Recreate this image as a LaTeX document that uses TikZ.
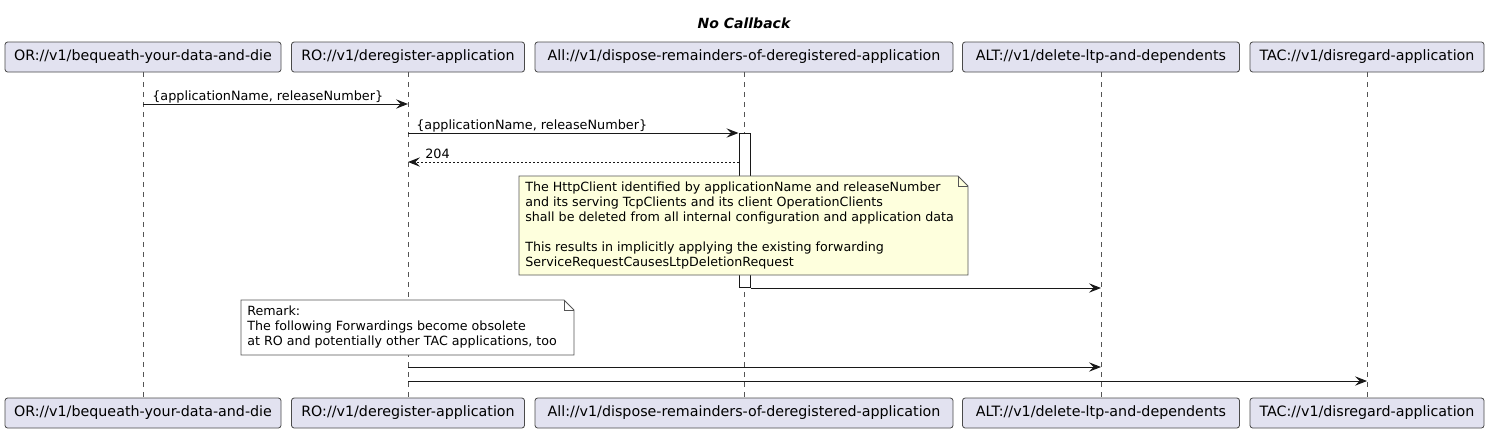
\documentclass[tikz,border=0pt]{standalone}
\usepackage{fontspec}
\setmainfont{DejaVu Sans}
\usetikzlibrary{arrows.meta,positioning,calc}
\definecolor{partfill}{HTML}{E2E2F0}
\definecolor{partline}{HTML}{181818}
\definecolor{boxline}{HTML}{4A4A4A}
\definecolor{notefill}{HTML}{FEFFDD}
\definecolor{lifegray}{HTML}{555555}
\newcommand{\umlfont}{\fontsize{9.6pt}{11.25pt}\selectfont}
\newcommand{\partfont}{\fontsize{10.7pt}{12pt}\selectfont}
\tikzset{
	part/.style={draw=boxline, fill=partfill, rounded corners=2pt, minimum height=22.5pt, inner sep=0pt, line width=0.6pt, font=\partfont},
	life/.style={draw=lifegray, line width=0.6pt, dash pattern=on 3.75pt off 3.75pt},
	msg/.style={draw=partline, line width=0.75pt, -{Stealth[length=9pt,width=7pt,inset=3.5pt]}},
	retmsg/.style={msg, dash pattern=on 1.5pt off 1.5pt},
	lbl/.style={font=\umlfont, inner sep=0pt, anchor=base west},
	notetext/.style={font=\fontsize{9.5pt}{11.25pt}\selectfont, inner sep=0pt, anchor=north west, align=left},
	noteline/.style={draw=lifegray, line width=0.6pt}
}
\begin{document}
\begin{tikzpicture}[x=0.75pt, y=-0.75pt]
	\useasboundingbox (0,0) rectangle (1489,433);
	\node[font=\fontsize{10.5pt}{12pt}\selectfont\bfseries\itshape] (title) at (744,23) {No Callback};
	% participants, top and bottom
	\node[part, minimum width=207pt] (or) at (143,57) {OR://v1/bequeath-your-data-and-die};
	\node[part, minimum width=174.75pt] (ro) at (408,57) {RO://v1/deregister-application};
	\node[part, minimum width=313.5pt] (all) at (744,57) {All://v1/dispose-remainders-of-deregistered-application};
	\node[part, minimum width=207.75pt] (alt) at (1101,57) {ALT://v1/delete-ltp-and-dependents};
	\node[part, minimum width=175.5pt] (tac) at (1367,57) {TAC://v1/disregard-application};
	\node[part, minimum width=207pt] (orb) at (143,413) {OR://v1/bequeath-your-data-and-die};
	\node[part, minimum width=174.75pt] (rob) at (408,413) {RO://v1/deregister-application};
	\node[part, minimum width=313.5pt] (allb) at (744,413) {All://v1/dispose-remainders-of-deregistered-application};
	\node[part, minimum width=207.75pt] (altb) at (1101,413) {ALT://v1/delete-ltp-and-dependents};
	\node[part, minimum width=175.5pt] (tacb) at (1367,413) {TAC://v1/disregard-application};
	\draw[life] (or) -- (orb);
	\draw[life] (ro) -- (rob);
	\draw[life] (all) -- (allb);
	\draw[life] (alt) -- (altb);
	\draw[life] (tac) -- (tacb);
	\node[draw=partline, fill=white, line width=0.75pt, minimum width=8.25pt, minimum height=115.5pt, inner sep=0pt, anchor=north] (act) at (744.5,133) {};
	% messages
	\draw[msg] (or |- 0,104) -- (ro |- 0,104);
	\node[lbl] (l1) at (152,100) {\{applicationName, releaseNumber\}};
	\draw[msg] (ro |- 0,133) -- (act.north west);
	\node[lbl] (l2) at (416,129) {\{applicationName, releaseNumber\}};
	\draw[retmsg] (act.west |- 0,162) -- (ro |- 0,162);
	\node[lbl] (l3) at (425,158) {204};
	\draw[msg] (act.south east) -- (alt |- act.south);
	\draw[msg] (ro |- 0,367) -- (alt |- 0,367);
	\draw[msg] (ro |- 0,381) -- (tac |- 0,381);
	% notes
	\filldraw[noteline, fill=notefill] (519,176) -- (958,176) -- (968,186) -- (968,275) -- (519,275) -- cycle;
	\draw[noteline] (958,176) -- (958,186) -- (968,186);
	\node[notetext] (n1) at (525,182) {The HttpClient identified by applicationName and releaseNumber\\
		and its serving TcpClients and its client OperationClients\\
		shall be deleted from all internal configuration and application data\\
		~\\
		This results in implicitly applying the existing forwarding\\
		ServiceRequestCausesLtpDeletionRequest};
	\filldraw[noteline, fill=white] (241,300) -- (564,300) -- (574,310) -- (574,355) -- (241,355) -- cycle;
	\draw[noteline] (564,300) -- (564,310) -- (574,310);
	\node[notetext] (n2) at (247,306) {Remark:\\
		The following Forwardings become obsolete\\
		at RO and potentially other TAC applications, too};
\end{tikzpicture}
\end{document}
